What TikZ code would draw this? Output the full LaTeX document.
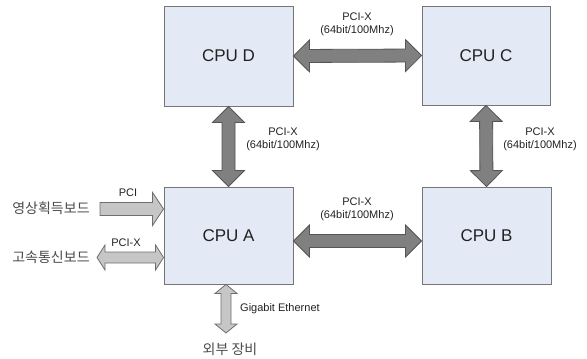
\documentclass[tikz,border=0pt]{standalone}
\usepackage{fontspec}
\setmainfont{Liberation Sans}
\newfontfamily\kr{Noto Sans CJK KR}
\usetikzlibrary{calc}
\definecolor{boxfill}{HTML}{E3EAF5}
\definecolor{boxline}{HTML}{767676}
\definecolor{busfill}{HTML}{808080}
\definecolor{busline}{HTML}{555555}
\definecolor{iofill}{HTML}{C6C6C6}
\definecolor{ioline}{HTML}{6E6E6E}
\definecolor{ink}{HTML}{222222}
\definecolor{krink}{HTML}{4A4A4A}
\tikzset{
  cpu/.style={draw=boxline, fill=boxfill, line width=0.9pt, inner sep=0pt,
    text=ink, font=\fontsize{17}{20}\selectfont},
  % block arrow with heads at both ends: half shaft width, half head width, head length
  fatboth/.style n args={3}{to path={
    let \p1=($(\tikztostart)!#3!(\tikztotarget)$),
        \p2=($(\tikztotarget)!#3!(\tikztostart)$) in
    (\tikztostart) -- ($(\p1)!#2!90:(\tikztotarget)$) -- ($(\p1)!#1!90:(\tikztotarget)$)
    -- ($(\p2)!#1!-90:(\tikztostart)$) -- ($(\p2)!#2!-90:(\tikztostart)$)
    -- (\tikztotarget) -- ($(\p2)!#2!90:(\tikztostart)$) -- ($(\p2)!#1!90:(\tikztostart)$)
    -- ($(\p1)!#1!-90:(\tikztotarget)$) -- ($(\p1)!#2!-90:(\tikztotarget)$) -- cycle}},
  % block arrow with a single head at the target end
  fatone/.style n args={3}{to path={
    let \p2=($(\tikztotarget)!#3!(\tikztostart)$) in
    ($(\tikztostart)!#1!90:(\tikztotarget)$) -- ($(\p2)!#1!-90:(\tikztostart)$)
    -- ($(\p2)!#2!-90:(\tikztostart)$) -- (\tikztotarget)
    -- ($(\p2)!#2!90:(\tikztostart)$) -- ($(\p2)!#1!90:(\tikztostart)$)
    -- ($(\tikztostart)!#1!-90:(\tikztotarget)$) -- cycle}},
  bus/.style={fatboth={6.5pt}{16pt}{16pt}, fill=busfill, draw=busline, line width=0.8pt, line join=miter},
  iobus/.style={fill=iofill, draw=ioline, line width=0.8pt, line join=miter},
  lbl/.style={text=ink, font=\fontsize{11}{13}\selectfont, inner sep=0pt, align=center},
  krl/.style={text=krink, font=\kr\fontsize{14}{16}\selectfont, inner sep=0pt},
}
\begin{document}
\begin{tikzpicture}[x=1pt, y=-1pt]
  \useasboundingbox (0,0) rectangle (587,359);

  % processor boards
  \node[cpu, minimum width=129pt, minimum height=100pt] (D) at (228.5,56) {CPU D};
  \node[cpu, minimum width=128pt, minimum height=99pt]  (C) at (486,55.5) {CPU C};
  \node[cpu, minimum width=129pt, minimum height=97pt]  (A) at (228.5,235.5) {CPU A};
  \node[cpu, minimum width=129pt, minimum height=97pt]  (B) at (486.5,235.5) {CPU B};

  % PCI-X links between the processors
  \draw[bus] (D.east) to (C.west);
  \draw[bus] (D.south) to (A.north);
  \draw[bus] (C.south) to (B.north);
  \coordinate (ab) at (300,241);
  \draw[bus] (A.east |- ab) to (B.west |- ab);

  \node[lbl] (ldc) at (357,24) {PCI-X\\(64bit/100Mhz)};
  \node[lbl] (lda) at (283,139) {PCI-X\\(64bit/100Mhz)};
  \node[lbl] (lcb) at (540,139) {PCI-X\\(64bit/100Mhz)};
  \node[lbl] (lab) at (357,209) {PCI-X\\(64bit/100Mhz)};

  % external boards
  \node[krl] (vid) at (51,208) {영상획득보드};
  \node[krl] (com) at (51,257) {고속통신보드};
  \node[krl] (ext) at (230,349) {외부 장비};

  \coordinate (pciS) at (100,209);
  \draw[iobus, fatone={6.5pt}{16.5pt}{11pt}] (pciS) to (A.west |- pciS);
  \node[lbl] (lpci) at (128,193) {PCI};

  \coordinate (pcixS) at (97,257.5);
  \draw[iobus, fatboth={5.5pt}{12.5pt}{8pt}] (pcixS) to (A.west |- pcixS);
  \node[lbl] (lpcix) at (126,243) {PCI-X};

  \coordinate (ge) at (226,333);
  \draw[iobus, fatboth={5pt}{11pt}{9pt}] (A.south -| ge) to (ge);
  \node[lbl, anchor=west] (lge) at (240,309) {Gigabit Ethernet};
\end{tikzpicture}
\end{document}
